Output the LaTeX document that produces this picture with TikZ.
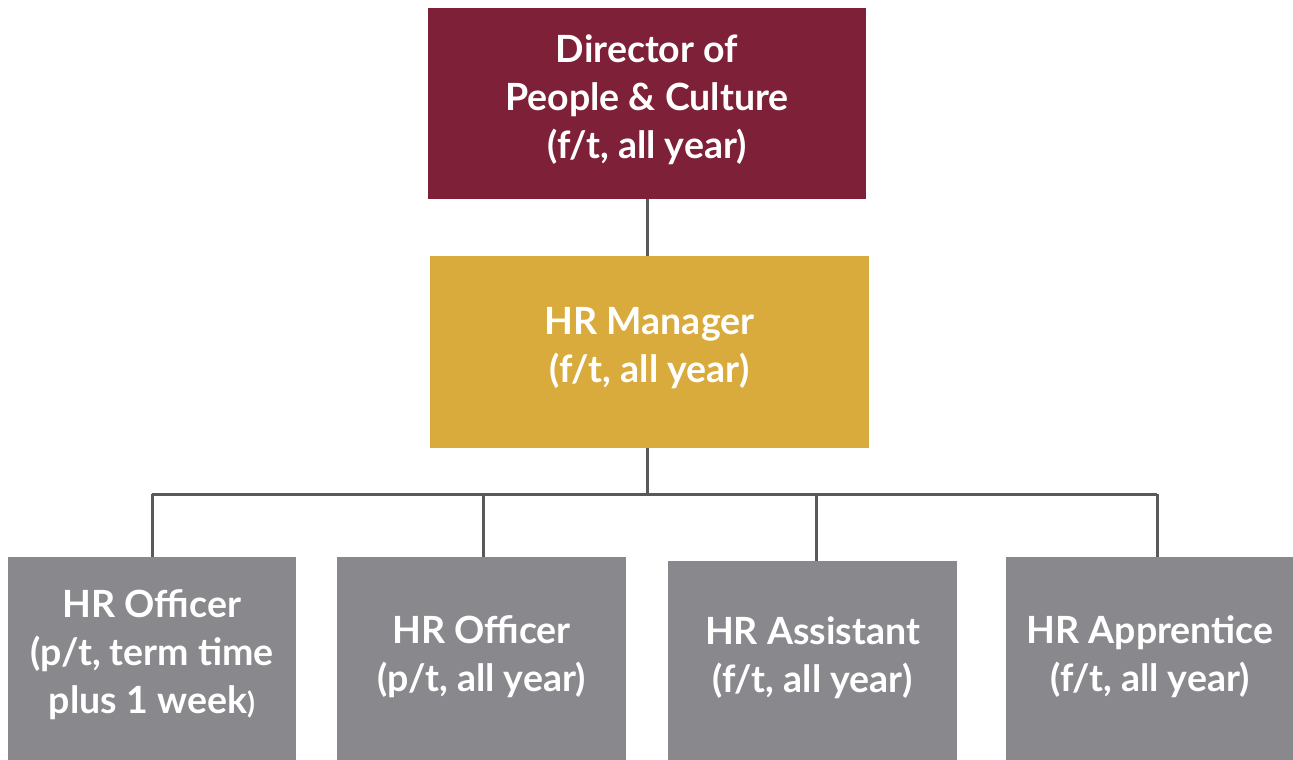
\documentclass[tikz,border=0pt]{standalone}
\usepackage{fontspec}
\setmainfont{Lato}
\definecolor{dirred}{HTML}{7E2037}
\definecolor{mgrgold}{HTML}{D9AB3D}
\definecolor{staffgray}{HTML}{89888C}
\definecolor{linkgray}{HTML}{58595B}
\begin{document}
\begin{tikzpicture}[x=1pt,y=-1pt,
		role/.style={rectangle,inner sep=0pt},
		roletext/.style={text=white,align=center,yshift=4pt,font=\bfseries\fontsize{37.5}{48}\selectfont},
		staff/.style={role,fill=staffgray,minimum width=289pt,minimum height=203pt},
		link/.style={draw=linkgray,line width=3pt}]
	\useasboundingbox (0,0) rectangle (1293,760) ;
	\node[role,fill=dirred,minimum width=438pt,minimum height=191pt,label={[roletext]center:Director of\\People \& Culture\\(f/t, all year)}] (dir) at (647,103.5) {} ;
	\node[role,fill=mgrgold,minimum width=439pt,minimum height=192pt,label={[roletext]center:HR Manager\\(f/t, all year)}] (mgr) at (649.5,352) {} ;
	\node[staff,minimum width=288pt,label={[roletext,yshift=-0.5pt]center:HR Officer\\(p/t, term time\\plus 1 week{\fontsize{29}{48}\selectfont)}}] (off1) at (152,658.5) {} ;
	\node[staff,label={[roletext,yshift=-2pt]center:HR Officer\\(p/t, all year)}] (off2) at (481.5,658.5) {} ;
	\node[staff,minimum height=199pt,label={[roletext,yshift=-1pt]center:HR Assistant\\(f/t, all year)}] (asst) at (812.5,660.5) {} ;
	\node[staff,minimum width=288pt,label={[roletext,yshift=-2pt]center:HR Apprentice\\(f/t, all year)}] (appr) at (1150,658.5) {} ;
	\coordinate (bus) at (0,494) ;
	% links
	\draw[link] (dir.south) -- (dir.south |- mgr.north) ;
	\draw[link] ([xshift=-2.5pt]mgr.south) -- ([xshift=-2.5pt]mgr.south |- bus) ;
	\draw[link] (bus -| off1.north) -- ([xshift=7pt]bus -| appr.north) ;
	\draw[link] (bus -| off1.north) -- (off1.north) ;
	\draw[link] ([xshift=1.5pt]bus -| off2.north) -- ([xshift=1.5pt]off2.north) ;
	\draw[link] ([xshift=3.5pt]bus -| asst.north) -- ([xshift=3.5pt]asst.north) ;
	\draw[link] ([xshift=7pt]bus -| appr.north) -- ([xshift=7pt]appr.north) ;
\end{tikzpicture}
\end{document}
